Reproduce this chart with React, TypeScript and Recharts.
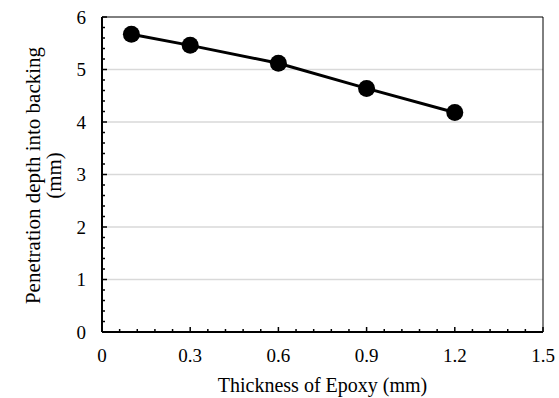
import React from 'react';
import { LineChart, Line, XAxis, YAxis, ReferenceLine } from 'recharts';

const thickness = [0.1, 0.3, 0.6, 0.9, 1.2];
const depth = [5.67, 5.46, 5.12, 4.64, 4.18];

const xTicks = [0, 0.06, 0.12, 0.18, 0.24, 0.3, 0.36, 0.42, 0.48, 0.54, 0.6, 0.66, 0.72, 0.78, 0.84, 0.9, 0.96, 1.02, 1.08, 1.14, 1.2, 1.26, 1.32, 1.38, 1.44, 1.5];
const xLabels = [0, 0.3, 0.6, 0.9, 1.2, 1.5];
const yTicks = [0, 0.2, 0.4, 0.6, 0.8, 1, 1.2, 1.4, 1.6, 1.8, 2, 2.2, 2.4, 2.6, 2.8, 3, 3.2, 3.4, 3.6, 3.8, 4, 4.2, 4.4, 4.6, 4.8, 5, 5.2, 5.4, 5.6, 5.8, 6];
const yLabels = [0, 1, 2, 3, 4, 5, 6];
const gridValues = [1, 2, 3, 4, 5];

const data = thickness.map((t, i) => ({ t, d: depth[i] }));

const serif = { fontFamily: "'Liberation Serif', 'Times New Roman', 'DejaVu Serif', serif" };

const isLabel = (v: number, list: number[]) => list.find((l) => Math.abs(l - v) < 1e-6);

const XTick = (props: any) => {
  const { x, y, payload } = props;
  const lab = isLabel(payload.value, xLabels);
  const major = lab !== undefined;
  return (
    <g>
      <line x1={x} x2={x} y1={y} y2={y - (major ? 5 : 3)} stroke="#000" strokeWidth={1.5} />
      {major && (
        <text x={x} y={y + 30} textAnchor="middle" style={serif} fontSize={19} fill="#000">
          {String(lab)}
        </text>
      )}
    </g>
  );
};

const YTick = (props: any) => {
  const { x, y, payload } = props;
  const lab = isLabel(payload.value, yLabels);
  const major = lab !== undefined;
  return (
    <g>
      <line x1={x} x2={x + (major ? 5 : 3)} y1={y} y2={y} stroke="#000" strokeWidth={1.5} />
      {major && (
        <text x={x - 16} y={y + 6.5} textAnchor="end" style={serif} fontSize={19} fill="#000">
          {String(lab)}
        </text>
      )}
    </g>
  );
};

const YLabel = (props: any) => {
  const vb = props.viewBox || {};
  const cy = vb.y + vb.height / 2 + 1;
  return (
    <g>
      <text transform={`translate(40, ${cy}) rotate(-90)`} textAnchor="middle" style={serif} fontSize={21} fill="#000">
        Penetration depth into backing
      </text>
      <text transform={`translate(61, ${cy}) rotate(-90)`} textAnchor="middle" style={serif} fontSize={21} fill="#000">
        (mm)
      </text>
    </g>
  );
};

const XLabel = (props: any) => {
  const vb = props.viewBox || {};
  const cx = vb.x + vb.width / 2;
  return (
    <text x={cx} y={392} textAnchor="middle" style={serif} fontSize={20} fill="#000">
      Thickness of Epoxy (mm)
    </text>
  );
};

export default function App() {
  return (
    <div style={{ position: 'absolute', left: 0, top: 0, background: '#fff' }}>
      <LineChart width={559} height={398} data={data} margin={{ top: 17, right: 16, bottom: 0, left: 0 }}>
        {gridValues.map((v) => (
          <ReferenceLine key={v} y={v} stroke="#d9d9d9" strokeWidth={1.5} />
        ))}
        <XAxis
          dataKey="t"
          type="number"
          domain={[0, 1.5]}
          ticks={xTicks}
          interval={0}
          height={66}
          tickSize={0}
          tickMargin={0}
          tickLine={false}
          axisLine={{ stroke: '#000', strokeWidth: 2 }}
          tick={<XTick />}
          label={<XLabel />}
        />
        <YAxis
          type="number"
          domain={[0, 6]}
          ticks={yTicks}
          interval={0}
          width={102}
          tickSize={0}
          tickMargin={0}
          tickLine={false}
          axisLine={{ stroke: '#000', strokeWidth: 2 }}
          tick={<YTick />}
          label={<YLabel />}
        />
        <ReferenceLine y={6} stroke="#000" strokeWidth={1} />
        <ReferenceLine x={1.5} stroke="#000" strokeWidth={1} />
        <Line
          dataKey="d"
          stroke="#000"
          strokeWidth={3}
          dot={{ r: 8.5, fill: '#000', stroke: '#000', strokeWidth: 0 }}
          isAnimationActive={false}
        />
      </LineChart>
    </div>
  );
}
